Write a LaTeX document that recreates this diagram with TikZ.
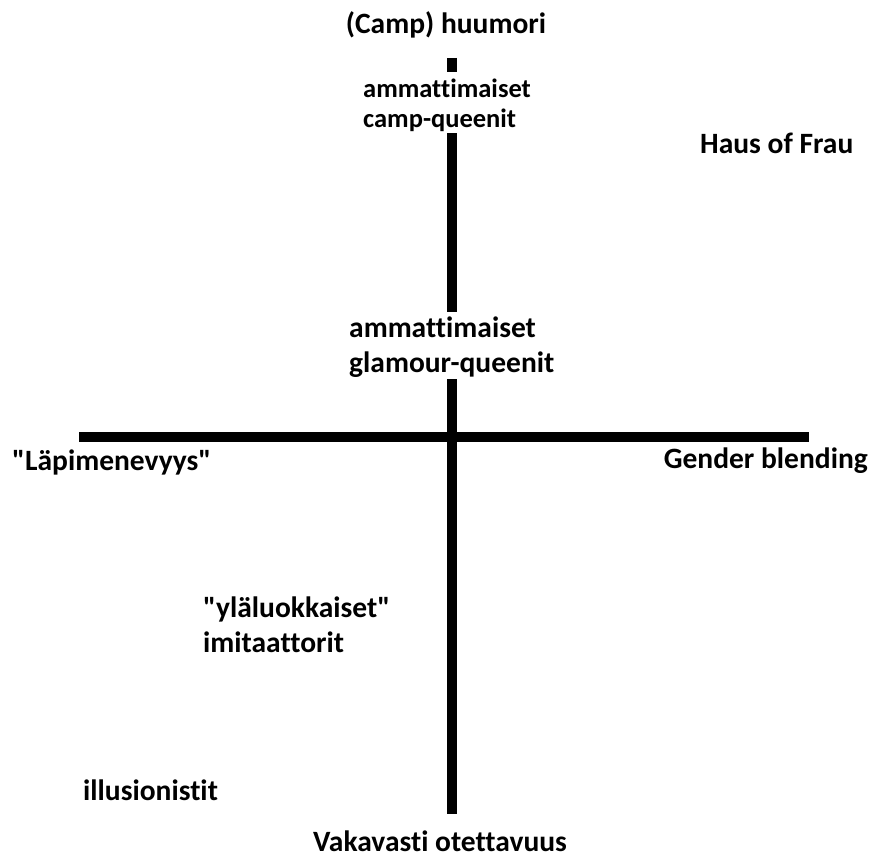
\documentclass[tikz,border=0pt]{standalone}
\usepackage{fontspec}
\setmainfont{Carlito}[Ligatures={CommonOff,TeXOff}]
\usetikzlibrary{calc}
\tikzset{
	axisline/.style={line width=10pt, black},
	biglabel/.style={inner sep=0pt, font=\fontsize{29.5}{35}\selectfont\bfseries, align=left},
	smalllabel/.style={inner sep=0pt, font=\fontsize{26.5}{30}\selectfont\bfseries, align=left},
}
\begin{document}
\begin{tikzpicture}[x=1pt, y=-1pt]
	\useasboundingbox (0,0) rectangle (875,859);
	% end points of the axes
	\coordinate (top) at (452,58);
	\coordinate (bottom) at (452,814);
	\coordinate (left) at (79,437);
	\coordinate (right) at (809,437);
	
	\node[biglabel, anchor=base] (humour) at (446,34) {(Camp) huumori};
	\node[biglabel, anchor=base] (serious) at (440,851) {Vakavasti otettavuus};
	\node[biglabel, anchor=base west] (passing) at (12,470) {"Läpimenevyys"};
	\node[biglabel, anchor=base east] (blending) at (868,468) {Gender blending};
	
	% two-line labels: base is the last line
	\node[smalllabel, anchor=base west] (camp) at (363,127) {ammattimaiset\\camp-queenit};
	\node[biglabel, anchor=base west] (glamour) at (349,372) {ammattimaiset\\glamour-queenit};
	\node[biglabel, anchor=base west] (haus) at (700,153) {Haus of Frau};
	\node[biglabel, anchor=base west] (upper) at (203,652) {"yläluokkaiset"\\imitaattorit};
	\node[biglabel, anchor=base west] (illusion) at (83,800) {illusionistit};
	
	\draw[axisline] (left) -- (right);
	\draw[axisline] (top) -- ($(top |- camp.north)+(0,-6)$);
	\draw[axisline] ($(top |- camp.south)+(0,2)$) -- ($(top |- glamour.north)+(0,-4)$);
	\draw[axisline] ($(top |- glamour.south)+(0,2)$) -- (bottom);
\end{tikzpicture}
\end{document}
